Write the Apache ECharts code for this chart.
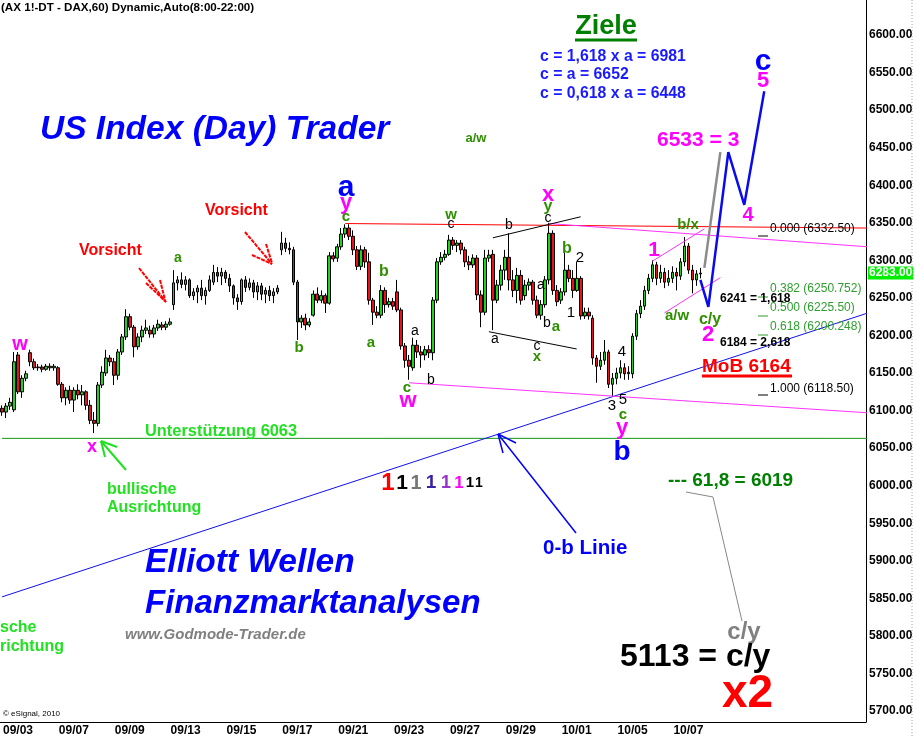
<!DOCTYPE html>
<html><head><meta charset="utf-8">
<script src="https://cdn.jsdelivr.net/npm/echarts@6/dist/echarts.min.js"></script>
<style>html,body{margin:0;padding:0;background:#fff}#c{width:916px;height:738px}</style>
</head><body><div id="c"></div>
<script>
// ---------- data ----------
const days = ['09/02','09/03','09/06','09/07','09/08','09/09','09/10','09/13','09/14','09/15','09/16','09/17','09/20','09/21','09/22','09/23','09/24','09/27','09/28','09/29','09/30','10/01','10/04','10/05','10/06','10/07','10/08','10/11','10/12','10/13','10/14','10/15','10/18'];
const shownDays = ['09/03','09/07','09/09','09/13','09/15','09/17','09/21','09/23','09/27','09/29','10/01','10/05','10/07'];
const hours = ['08','10','12','14','16','18','20'];
const firstDayHours = ['14','16','18','20'];
const totalSlots = 217;

const open = [6103,6098,6106,6101,6174,6125,6143,6177,6165,6157,
6158,6155,6159,6157,6157,6135,6117,6127,6114,6127,
6121,6125,6107,6087,6083,6134,6150,6170,6165,6147,
6178,6198,6225,6211,6185,6198,6207,6207,6202,6210,
6214,6211,6215,6241,6270,6274,6268,6274,6253,6258,
6263,6253,6260,6271,6284,6279,6284,6276,6266,6250,
6245,6274,6264,6270,6258,6266,6255,6260,6253,6258,
6314,6323,6316,6314,6271,6218,6223,6214,6227,6255,
6247,6253,6243,6306,6303,6318,6335,6343,6332,6314,
6292,6314,6298,6247,6231,6227,6260,6241,6245,6258,
6234,6186,6167,6157,6187,6178,6174,6181,6177,6247,
6298,6304,6308,6327,6320,6323,6314,6298,6294,6303,
6254,6231,6303,6308,6247,6267,6287,6304,6274,6260,
6280,6253,6267,6271,6247,6227,6241,6274,6336,6260,
6247,6258,6287,6276,6260,6276,6226,6231,6223,6170,
6159,6167,6178,6135,6143,6150,6157,6149,6149,6199,
6229,6239,6260,6276,6294,6276,6284,6271,6276,6284,
6279,6298,6319,6287,6274,6282];
const close = [6098,6106,6111,6165,6125,6143,6149,6165,6157,6158,
6155,6159,6157,6159,6135,6117,6127,6114,6127,6121,
6125,6107,6087,6083,6134,6151,6170,6165,6147,6178,
6198,6225,6211,6185,6198,6207,6210,6202,6210,6215,
6211,6215,6218,6270,6274,6268,6274,6253,6258,6263,
6253,6260,6274,6284,6279,6284,6276,6266,6250,6245,
6274,6264,6270,6258,6266,6255,6260,6253,6258,6263,
6323,6316,6314,6271,6218,6223,6214,6218,6255,6247,
6253,6243,6306,6302,6318,6335,6343,6332,6314,6292,
6314,6298,6247,6231,6227,6260,6241,6245,6239,6234,
6186,6167,6159,6187,6178,6174,6181,6177,6247,6298,
6304,6308,6327,6320,6323,6314,6298,6294,6303,6254,
6231,6303,6307,6247,6267,6287,6304,6274,6260,6280,
6247,6267,6271,6247,6227,6241,6274,6336,6260,6245,
6258,6287,6276,6260,6276,6226,6231,6226,6170,6159,
6167,6178,6135,6143,6150,6157,6149,6151,6199,6229,
6239,6260,6276,6294,6276,6284,6271,6276,6284,6279,
6298,6319,6287,6274,6282,6283];
const low = [6093,6090,6101,6098,6122,6117,6139,6159,6154,6153,
6151,6153,6153,6153,6133,6111,6107,6109,6098,6115,
6107,6101,6082,6070,6079,6130,6146,6159,6134,6141,
6174,6194,6207,6171,6181,6191,6202,6197,6197,6206,
6207,6207,6213,6234,6260,6263,6260,6250,6247,6243,
6247,6241,6258,6267,6271,6267,6270,6258,6241,6234,
6241,6258,6260,6250,6247,6247,6243,6246,6243,6255,
6307,6311,6308,6267,6194,6210,6207,6211,6225,6243,
6243,6230,6241,6298,6298,6314,6330,6327,6307,6287,
6287,6290,6241,6214,6223,6223,6230,6237,6234,6231,
6181,6157,6141,6153,6170,6157,6167,6170,6167,6243,
6294,6300,6306,6314,6311,6308,6291,6287,6290,6247,
6211,6227,6298,6207,6243,6260,6274,6260,6251,6243,
6241,6247,6260,6241,6223,6221,6237,6268,6254,6239,
6242,6253,6271,6250,6258,6221,6222,6221,6161,6137,
6154,6161,6130,6119,6135,6143,6141,6141,6143,6194,
6223,6234,6255,6271,6267,6270,6263,6266,6270,6260,
6274,6292,6282,6256,6266,6276];
const high = [6107,6110,6117,6178,6178,6147,6153,6181,6169,6162,
6161,6162,6163,6162,6159,6138,6131,6133,6131,6135,
6134,6127,6114,6098,6138,6159,6181,6174,6170,6182,
6202,6235,6229,6214,6203,6213,6221,6213,6214,6221,
6218,6219,6223,6287,6279,6284,6279,6276,6263,6267,
6274,6264,6280,6294,6291,6290,6287,6282,6268,6255,
6276,6279,6276,6274,6271,6270,6264,6266,6263,6267,
6338,6330,6324,6318,6274,6227,6229,6223,6260,6264,
6260,6256,6311,6311,6322,6343,6348,6348,6340,6319,
6320,6318,6310,6250,6239,6267,6264,6250,6250,6274,
6237,6190,6174,6197,6194,6186,6186,6187,6251,6303,
6311,6314,6334,6331,6327,6327,6318,6306,6308,6307,
6260,6314,6314,6314,6274,6294,6314,6336,6287,6290,
6287,6274,6276,6274,6253,6247,6279,6350,6340,6267,
6263,6314,6294,6287,6298,6279,6237,6237,6227,6174,
6178,6194,6181,6150,6157,6167,6163,6159,6203,6234,
6247,6266,6282,6300,6298,6294,6290,6287,6292,6290,
6303,6331,6323,6294,6287,6290];
const yTicks = [5700,5750,5800,5850,5900,5950,6000,6050,6100,6150,6200,6250,6300,6350,6400,6450,6500,6550,6600];
const lastPrice = 6283;
const supportLevel = 6063;
// annotation lines in [slot index, price]
const resistLine = [[86, 6349], [216.5, 6343]];
const pinkUpper = [[137, 6349], [216.5, 6318]];
const pinkLower = [[101.5, 6137], [216.5, 6097]];
const zeroBLine = [[-0.5, 5852], [216.5, 6230]];
const blackUpper = [[123, 6330], [145.3, 6358]];
const blackLower = [[122.3, 6205], [144.1, 6182]];
const pinkChanUp = [[162.6, 6299], [175.6, 6342]];
const pinkChanLo = [[165.6, 6230], [179.9, 6277]];
const blueProj = [[174.9, 6274], [176.7, 6238], [182, 6444], [185.7, 6374], [191, 6525]];
const grayProj = [[175.7, 6290], [180, 6444]];

// ---------- build ----------
const cats = [];
const dayStart = {};
for (const d of days) {
  const hs = d === days[0] ? firstDayHours : hours;
  hs.forEach((h, k) => { if (cats.length < totalSlots) { if (k === 0) dayStart[cats.length] = d; cats.push(d + ' ' + h + ':00'); } });
}
const candles = open.map((o, i) => [o, close[i], low[i], high[i]]);

const FF = '"Liberation Sans", Arial, sans-serif';
function lineSeries(pts, color, width, z) {
  return { type: 'line', data: pts, symbol: 'none', silent: true, z: z || 5, animation: false,
    lineStyle: { color: color, width: width }, clip: true };
}
const texts = [];
function T(t, x, y, color, font, align) {
  texts.push({ type: 'text', silent: true, z: 100, style: { text: t, x: x, y: y, fill: color,
    font: font + ' ' + FF, align: align || 'left', textAlign: align || 'left', verticalAlign: 'middle', textVerticalAlign: 'middle' } });
}
const shapes = [];
function P(points, color, w, dash) {
  shapes.push({ type: 'polyline', silent: true, z: 99, shape: { points: points }, style: { stroke: color, lineWidth: w, fill: null, lineDash: dash || null } });
}
const GREEN = '#2f8f00', LIME = '#22e022', MAG = '#ff00ff', BLUE = '#0000ff', RED = '#ff0000';
// header & titles
T('(AX 1!-DT - DAX,60) Dynamic,Auto(8:00-22:00)', 1, 8, '#000', 'bold 11.6px');
T('Ziele', 606, 27, '#008000', 'bold 27px', 'center');
P([[575, 40], [637, 40]], '#008000', 3);
T('c = 1,618 x a = 6981', 540, 57, '#1a1aff', 'bold 15.8px');
T('c = a = 6652', 540, 75, '#1a1aff', 'bold 15.8px');
T('c = 0,618 x a = 6448', 540, 94, '#1a1aff', 'bold 15.8px');
T('US Index (Day) Trader', 40, 130, BLUE, 'italic bold 33.5px');
T('Elliott Wellen', 145, 563, BLUE, 'italic bold 33.5px');
T('Finanzmarktanalysen', 145, 604, BLUE, 'italic bold 33px');
T('www.Godmode-Trader.de', 125, 635, '#808080', 'italic bold 15px');
T('\u00a9 eSignal, 2010', 3, 714, '#000', '8px');
// wave labels
T('a/w', 476, 138, GREEN, 'bold 13px', 'center');
T('6533 = 3', 657, 140, MAG, 'bold 21px');
T('c', 763, 62, BLUE, 'bold 30px', 'center');
T('5', 763, 81, MAG, 'bold 22px', 'center');
T('4', 748, 215, MAG, 'bold 20px', 'center');
T('a', 346, 188, BLUE, 'bold 30px', 'center');
T('y', 346, 203, MAG, 'bold 22px', 'center');
T('c', 346, 217, GREEN, 'bold 15px', 'center');
T('x', 548, 195, MAG, 'bold 22px', 'center');
T('y', 548, 207, GREEN, 'bold 16px', 'center');
T('c', 548, 218, '#000', '14px', 'center');
T('w', 451, 215, GREEN, 'bold 15px', 'center');
T('c', 451, 224, '#000', '14px', 'center');
T('b', 509, 225, '#000', '14px', 'center');
T('b/x', 688, 225, GREEN, 'bold 15px', 'center');
T('1', 654, 250, MAG, 'bold 21px', 'center');
T('b', 567, 249, GREEN, 'bold 16px', 'center');
T('2', 580, 258, '#000', '15px', 'center');
T('1', 571, 313, '#000', '15px', 'center');
T('a', 541, 285, '#000', '14px', 'center');
T('b', 547, 323, '#000', '14px', 'center');
T('a', 556, 327, GREEN, 'bold 15px', 'center');
T('c', 537, 346, '#000', '14px', 'center');
T('x', 537, 357, GREEN, 'bold 15px', 'center');
T('a', 495, 339, '#000', '14px', 'center');
T('a', 178, 258, GREEN, 'bold 14px', 'center');
T('b', 299, 348, GREEN, 'bold 15px', 'center');
T('b', 384, 272, GREEN, 'bold 16px', 'center');
T('a', 371, 343, GREEN, 'bold 15px', 'center');
T('a', 415, 331, '#000', '14px', 'center');
T('b', 431, 380, '#000', '14px', 'center');
T('c', 407, 388, GREEN, 'bold 15px', 'center');
T('w', 408, 401, MAG, 'bold 22px', 'center');
T('4', 622, 352, '#000', '15px', 'center');
T('3', 612, 406, '#000', '15px', 'center');
T('5', 623, 400, '#000', '15px', 'center');
T('c', 623, 415, GREEN, 'bold 15px', 'center');
T('y', 622, 428, MAG, 'bold 22px', 'center');
T('b', 622, 452, BLUE, 'bold 28px', 'center');
T('a/w', 677, 316, GREEN, 'bold 15px', 'center');
T('c/y', 710, 320, GREEN, 'bold 16px', 'center');
T('2', 708, 335, MAG, 'bold 22px', 'center');
T('w', 20, 344, MAG, 'bold 20px', 'center');
T('x', 92, 447, MAG, 'bold 18px', 'center');
T('Vorsicht', 79, 251, RED, 'bold 16px');
T('Vorsicht', 205, 211, RED, 'bold 16px');
T('Unterst\u00fctzung 6063', 145, 431, LIME, 'bold 16.4px');
T('bullische', 107, 490, LIME, 'bold 16px');
T('Ausrichtung', 107, 508, LIME, 'bold 16px');
T('sche', 0, 628, LIME, 'bold 16px');
T('richtung', 0, 647, LIME, 'bold 16px');
T('--- 61,8 = 6019', 668, 481, '#008000', 'bold 19px');
T('0-b Linie', 543, 548, BLUE, 'bold 20.5px');
T('c/y', 744, 632, '#808080', 'bold 24px', 'center');
T('5113 = c/y', 620, 657, '#000', 'bold 32px');
T('x2', 722, 694, RED, 'bold 46px');
// the 1-row
[['1', 388, RED, 24], ['1', 402, '#000', 21], ['1', 416, '#777777', 20], ['1', 431, '#3a1fa8', 19], ['1', 446, '#9933cc', 18], ['1', 459, MAG, 17], ['1', 470, '#000', 15], ['1', 479, '#000', 14]]
  .forEach(o => T(o[0], o[1], 483, o[2], 'bold ' + o[3] + 'px', 'center'));
// fib labels
T('0.000 (6332.50)', 770, 229, '#000', '12px');
T('0.382 (6250.752)', 770, 289, '#2e9e2e', '12px');
T('6241 = 1,618', 720, 299, '#000', 'bold 12px');
T('0.500 (6225.50)', 770, 308, '#2e9e2e', '12px');
T('0.618 (6200.248)', 770, 327, '#2e9e2e', '12px');
T('6184 = 2,618', 720, 343, '#000', 'bold 12px');
T('MoB 6164', 702, 367, RED, 'bold 19px');
P([[702, 376], [792, 376]], RED, 3);
T('1.000 (6118.50)', 770, 389, '#000', '12px');
P([[758, 236], [768, 236]], '#000', 1);
P([[758, 297], [768, 297]], '#2e9e2e', 1);
P([[758, 316], [768, 316]], '#2e9e2e', 1);
P([[758, 335], [768, 335]], '#2e9e2e', 1);
P([[758, 395], [768, 395]], '#000', 1);
// arrows
P([[139, 268], [166, 302]], RED, 2, [4, 1]);
P([[146, 283], [166, 302]], RED, 2, [4, 1]);
P([[160, 280], [165, 300]], RED, 2, [4, 1]);
P([[245, 232], [272, 264]], RED, 2, [4, 1]);
P([[252, 255], [272, 264]], RED, 2, [4, 1]);
P([[266, 244], [272, 263]], RED, 2, [4, 1]);
P([[126, 470], [101, 441]], '#22e022', 2);
P([[101, 441], [117, 447]], '#22e022', 2);
P([[101, 441], [105, 457]], '#22e022', 2);
P([[576, 533], [498, 434]], BLUE, 1.5);
P([[498, 434], [516, 443]], BLUE, 1.5);
P([[498, 434], [503, 453]], BLUE, 1.5);
P([[686, 492], [713, 497], [742, 621]], '#888888', 1);
P([[912, 0], [912, 738]], '#aaaaaa', 1, [1, 2]);

const option = {
  animation: false,
  backgroundColor: '#fff',
  grid: { left: 0, right: 50, top: 0, bottom: 16 },
  xAxis: {
    type: 'category', data: cats, boundaryGap: true,
    axisLine: { show: true, lineStyle: { color: '#000', width: 1 } },
    axisTick: { show: false },
    splitLine: { show: false },
    axisLabel: {
      interval: (idx) => dayStart[idx] !== undefined && shownDays.includes(dayStart[idx]),
      formatter: (v) => v.split(' ')[0],
      color: '#000', fontWeight: 'bold', fontSize: 12, fontFamily: FF, margin: 3
    }
  },
  yAxis: {
    type: 'value', position: 'right', min: 5685.4, max: 6646.6, scale: true,
    axisLine: { show: true, lineStyle: { color: '#000', width: 1 } },
    axisTick: { show: false },
    splitLine: { show: false },
    axisLabel: { customValues: yTicks, formatter: (v) => v.toFixed(2), color: '#000', fontWeight: 'bold', fontSize: 12, fontFamily: FF, margin: 3 }
  },
  series: [
    { type: 'candlestick', data: candles, barWidth: 3.2, z: 3,
      itemStyle: { color: '#1ed21e', color0: '#e8121a', borderColor: '#000', borderColor0: '#000', borderWidth: 1 },
      markLine: { silent: true, symbol: 'none', animation: false, data: [{ yAxis: lastPrice }],
        lineStyle: { color: 'rgba(0,0,0,0)', width: 1, opacity: 1 },
        label: { show: true, position: 'end', formatter: lastPrice.toFixed(2), backgroundColor: '#00ee00', color: '#ffffff', opacity: 1, fontWeight: 'bold', fontSize: 12, fontFamily: FF, padding: [1, 1, 0, 1], distance: 2 } } },
    lineSeries([[-0.5, supportLevel], [216.5, supportLevel]], '#119911', 1, 4),
    lineSeries(zeroBLine, '#1010ee', 1, 4),
    lineSeries(resistLine, '#ff0000', 1, 5),
    lineSeries(pinkUpper, '#ff33ff', 1, 5),
    lineSeries(pinkLower, '#ff33ff', 1, 5),
    lineSeries(blackUpper, '#000', 1, 5),
    lineSeries(blackLower, '#000', 1, 5),
    lineSeries(pinkChanUp, '#ff33ff', 1, 5),
    lineSeries(pinkChanLo, '#ff33ff', 1, 5),
    lineSeries(grayProj, '#8c8c8c', 2.5, 6),
    lineSeries(blueProj, '#0a0aee', 2.5, 6)
  ],
  graphic: shapes.concat(texts)
};
const chart = echarts.init(document.getElementById('c'));
chart.setOption(option);
</script>
</body></html>
